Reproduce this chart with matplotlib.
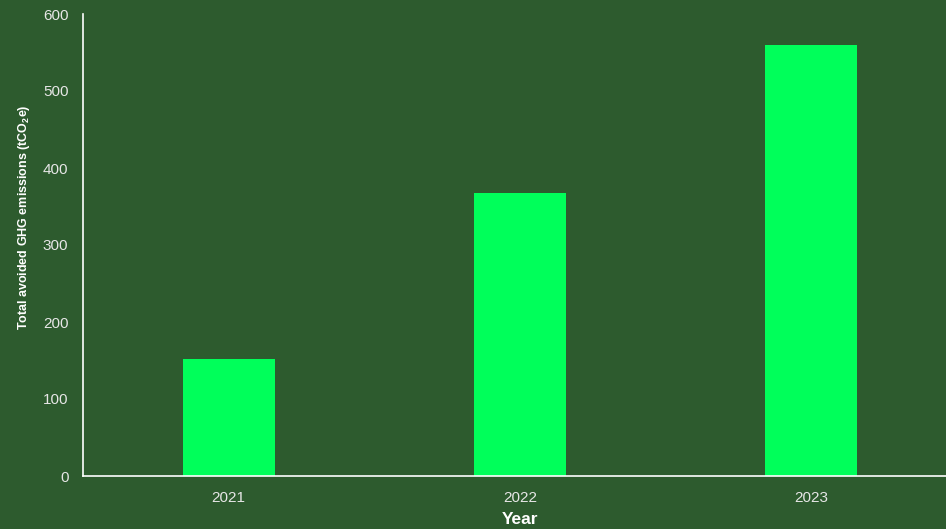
import matplotlib.pyplot as plt

# ------------------------------
# Data
# ------------------------------
years = ["2021", "2022", "2023"]
avoided = [152, 367, 560]

BG = "#2d5b2e"
BAR = "#00ff5a"
FG = "#ffffff"
TICK = "#e6e6e6"

plt.rcParams["font.family"] = ["Liberation Sans", "DejaVu Sans"]
plt.rcParams["mathtext.fontset"] = "custom"
plt.rcParams["mathtext.rm"] = "Liberation Sans:bold"
plt.rcParams["mathtext.default"] = "regular"

fig = plt.figure(figsize=(9.46, 5.29), dpi=100, facecolor=BG)
ax = fig.add_axes([83 / 946, 1 - 476 / 529, 874 / 946, 462 / 529])
ax.set_facecolor(BG)

x = range(len(years))
ax.bar(x, avoided, width=0.315, color=BAR)

ax.set_xlim(-0.5, 2.5)
ax.set_ylim(0, 600)
ax.set_xticks(list(x))
ax.set_xticklabels(years)
ax.set_yticks(range(0, 601, 100))

ax.tick_params(axis="both", length=0, colors=TICK, labelsize=11)
ax.tick_params(axis="x", pad=10.5)
ax.tick_params(axis="y", pad=10.5)

for side in ["top", "right"]:
    ax.spines[side].set_visible(False)
for side in ["left", "bottom"]:
    ax.spines[side].set_color(FG)
    ax.spines[side].set_linewidth(1.2)

ax.set_xlabel("Year", color=FG, fontsize=12.5, fontweight="bold", labelpad=5)
ax.set_ylabel(r"Total avoided GHG emissions (tCO$_2$e)", color=FG,
              fontsize=9, fontweight="bold")
ax.yaxis.set_label_coords(-0.058, 0.56)

fig.savefig("out.png", dpi=100, facecolor=BG)
